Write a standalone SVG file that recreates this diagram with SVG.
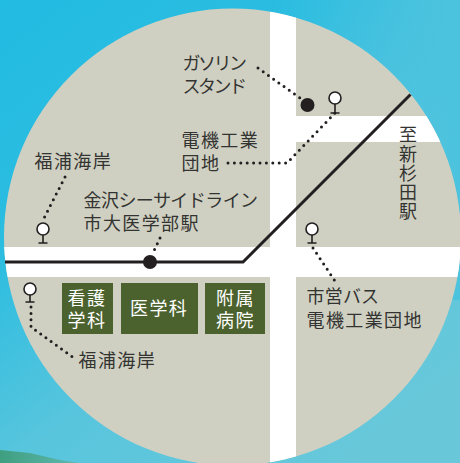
<svg xmlns="http://www.w3.org/2000/svg" width="460" height="463" viewBox="0 0 460 463">
<style>
.t{font-family:"Noto Sans CJK JP","Noto Sans",sans-serif;font-size:18px;letter-spacing:1.4px;fill:#333331}
.w{fill:#fff}
.dot{fill:none;stroke:#231f20;stroke-width:3;stroke-linecap:round;stroke-linejoin:round;stroke-dasharray:0 6.4}
.pin{fill:#fff;stroke:#231f20;stroke-width:1.6}
.stem{fill:none;stroke:#231f20;stroke-width:1.6}
.box{fill:#4b622e}
</style>
<defs>
<linearGradient id="sky" x1="0" y1="0" x2="0.75" y2="1">
<stop offset="0" stop-color="#22bbe2"/><stop offset="0.35" stop-color="#2cbde0"/><stop offset="0.65" stop-color="#58c5dd"/><stop offset="1" stop-color="#68c8da"/>
</linearGradient>
<linearGradient id="sky2" x1="0" y1="0" x2="1" y2="0">
<stop offset="0" stop-color="#4cc2e0" stop-opacity="0"/><stop offset="0.6" stop-color="#4cc2e0" stop-opacity="0"/><stop offset="1" stop-color="#4cc3de" stop-opacity="1"/>
</linearGradient>
<linearGradient id="land" x1="0" y1="0" x2="1" y2="0">
<stop offset="0" stop-color="#3f9f80"/><stop offset="1" stop-color="#5fb9b0"/>
</linearGradient>
<clipPath id="c"><circle cx="232.500" cy="237" r="228.500"/></clipPath>
</defs>
<rect width="460" height="463" fill="url(#sky)"/>
<rect width="460" height="300" fill="url(#sky2)"/>
<path d="M0 450 L30 453 L60 460 L80 463 L0 463Z" fill="url(#land)"/>
<g id="map" clip-path="url(#c)">
<rect width="460" height="463" fill="#cfd0c2"/>
<g fill="#fff">
<rect x="270" y="0" width="26" height="463"/>
<rect x="0" y="247" width="460" height="30"/>
<rect x="296" y="116" width="164" height="26"/>
</g>
</g>
<g id="connectors">
<path d="M5 262H243L410.500 94.500" fill="none" stroke="#231f20" stroke-width="3"/>
<path class="dot" d="M258 68L300 98"/>
<path class="dot" d="M228 163H287L335 113"/>
<path class="dot" d="M65 177L43 220"/>
<path class="dot" d="M160 238L152 255"/>
<path class="dot" d="M313 248L335 281"/>
<path class="dot" d="M31 307V327L74 358"/>
</g>
<g id="station-gas"><circle cx="307.500" cy="105" r="7" fill="#231f20"/>
<text class="t" x="182.500" y="70" textLength="66" lengthAdjust="spacing">ガソリン</text><text class="t" x="182.500" y="93" textLength="66" lengthAdjust="spacing">スタンド</text></g>
<g id="station-main"><circle cx="150" cy="262" r="7" fill="#231f20"/>
<text class="t" x="83.500" y="207" textLength="176" lengthAdjust="spacing">金沢シーサイドライン</text><text class="t" x="83.500" y="230">市大医学部駅</text></g>
<g id="stop-denki"><path class="stem" d="M335 104V113M330.500 113H339.500"/><circle class="pin" cx="335" cy="98" r="6"/>
<text class="t" x="181.500" y="147">電機工業</text><text class="t" x="181.500" y="170">団地</text></g>
<g id="stop-fukuura-n"><path class="stem" d="M43 235V243M38.500 243H47.500"/><circle class="pin" cx="43" cy="229" r="6"/>
<text class="t" x="34.500" y="168">福浦海岸</text></g>
<g id="stop-bus"><path class="stem" d="M312 235V243M307.500 243H316.500"/><circle class="pin" cx="312" cy="229" r="6"/>
<text class="t" x="306.500" y="303" textLength="74" lengthAdjust="spacing">市営バス</text><text class="t" x="306.500" y="327">電機工業団地</text></g>
<g id="stop-fukuura-s"><path class="stem" d="M30 295V302M25.500 302H34.500"/><circle class="pin" cx="30" cy="289" r="6"/>
<text class="t" x="78.500" y="367">福浦海岸</text></g>
<g id="dest"><text class="t" x="399 399 399 399 399" y="141 160.500 180 199 218" style="letter-spacing:0">至新杉田駅</text></g>
<g id="nursing"><rect class="box" x="62" y="283" width="51" height="51"/>
<text class="t w" x="67.500" y="305">看護</text><text class="t w" x="67.500" y="327">学科</text></g>
<g id="medicine"><rect class="box" x="121" y="283" width="77" height="51"/>
<text class="t w" x="130" y="315">医学科</text></g>
<g id="hospital"><rect class="box" x="205" y="283" width="60" height="51"/>
<text class="t w" x="216" y="305">附属</text><text class="t w" x="216" y="327">病院</text></g>
</svg>
